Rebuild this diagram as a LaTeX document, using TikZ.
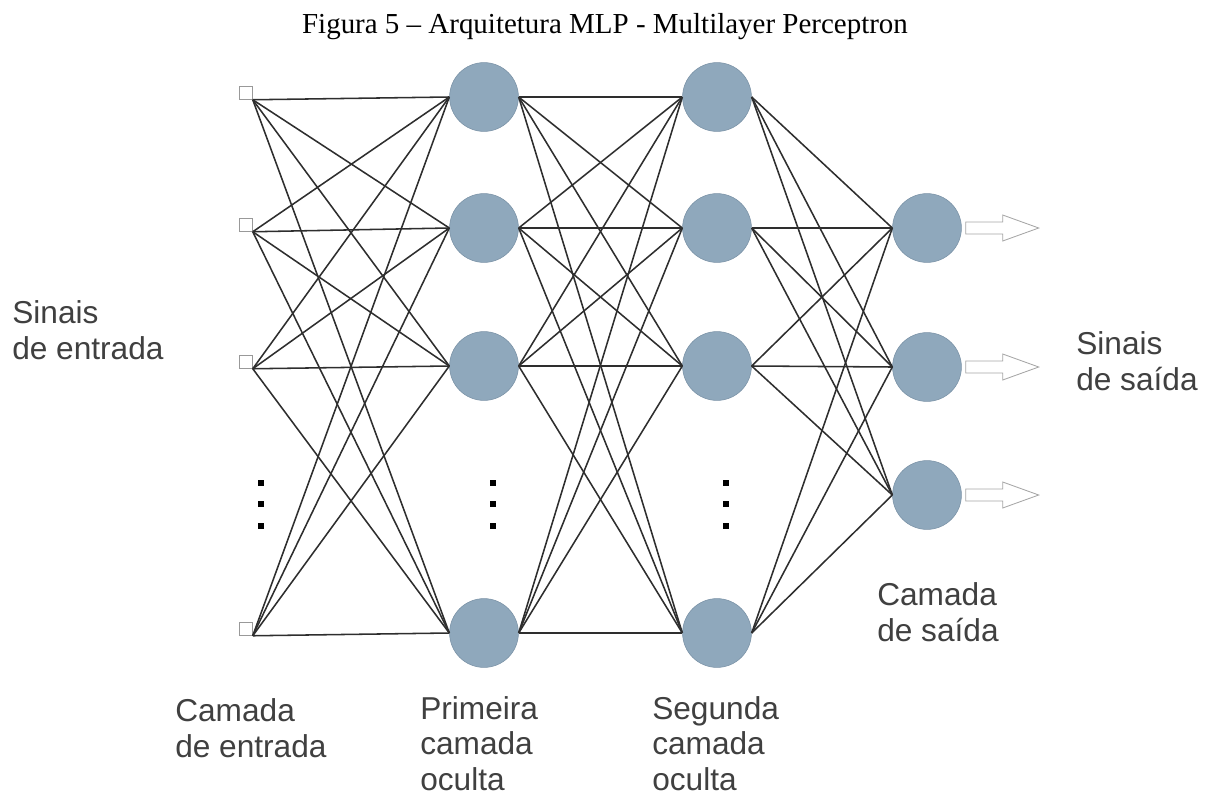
\documentclass[tikz,border=0pt]{standalone}
\usepackage{fontspec}
\setmainfont{Liberation Serif}
\newfontfamily\labfont{Liberation Sans}
\usetikzlibrary{calc}

\definecolor{neuronfill}{HTML}{8FA8BC}
\definecolor{neurondraw}{HTML}{7A92A6}
\definecolor{labgray}{HTML}{404040}
\definecolor{wiregray}{HTML}{2E2E2E}

\begin{document}
\begin{tikzpicture}[x=0.025cm, y=-0.025cm,
    neuron/.style={circle, draw=neurondraw, line width=0.4pt,
                   fill=neuronfill, minimum size=1.72cm, inner sep=0pt},
    inbox/.style={rectangle, draw=black!40, fill=white, line width=0.5pt,
                  minimum size=0.32cm, inner sep=0pt},
    wire/.style={wiregray, line width=1.1pt},
    outarr/.style={draw=black!35, fill=white, line width=0.6pt},
    dotmark/.style={rectangle, fill=black, minimum size=0.17cm, inner sep=0pt},
    lbl/.style={font=\labfont\fontsize{22.5}{24.9}\selectfont, text=labgray,
                align=left, anchor=base west, inner sep=0pt},
]
\useasboundingbox (0,0) rectangle (1210,796);

% Title
\node[anchor=base, inner sep=0pt, font=\fontsize{20.6}{24}\selectfont]
    (title) at (605,33) {Figura 5 -- Arquitetura MLP - Multilayer Perceptron};

% Layers
\foreach \k/\y in {1/97, 2/229, 3/366, 4/633}
    \node[inbox] (i\k) at (246,\y-4) {};
\foreach \k/\y in {1/97, 2/228, 3/366, 4/633}
    \node[neuron] (a\k) at (484,\y) {};
\foreach \k/\y in {1/97, 2/228, 3/366, 4/633}
    \node[neuron] (b\k) at (717,\y) {};
\foreach \k/\y in {1/228, 2/367, 3/495}
    \node[neuron] (o\k) at (927,\y) {};

% Connections
\foreach \s in {1,...,4}
    \foreach \t in {1,...,4}
        \draw[wire] (i\s.south east) -- (a\t.west);
\foreach \s in {1,...,4}
    \foreach \t in {1,...,4}
        \draw[wire] (a\s.east) -- (b\t.west);
\foreach \s in {1,...,4}
    \foreach \t in {1,2,3}
        \draw[wire] (b\s.east) -- (o\t.west);

% Output arrows
\foreach \k in {1,2,3}
    \draw[outarr] ($(o\k.east)+(4,-6)$) -- ++(37,0) -- ++(0,-7)
        -- ++(36,13) -- ++(-36,13) -- ++(0,-7) -- ++(-37,0) -- cycle;

% Vertical dots
\foreach \x/\n in {261/i, 493/a, 726/b}
    \foreach \y [count=\j] in {483, 504, 526}
        \node[dotmark] (dots\n\j) at (\x,\y) {};

% Labels
\node[lbl] (insig) at (12,359) {Sinais\\de entrada};
\node[lbl] (outsig) at (1076,390) {Sinais\\de saída};
\node[lbl] (inlayer) at (175,757) {Camada\\de entrada};
\node[lbl] (hid1) at (420,790) {Primeira\\camada\\oculta};
\node[lbl] (hid2) at (652,790) {Segunda\\camada\\oculta};
\node[lbl] (outlayer) at (877,641) {Camada\\de saída};

\end{tikzpicture}
\end{document}
